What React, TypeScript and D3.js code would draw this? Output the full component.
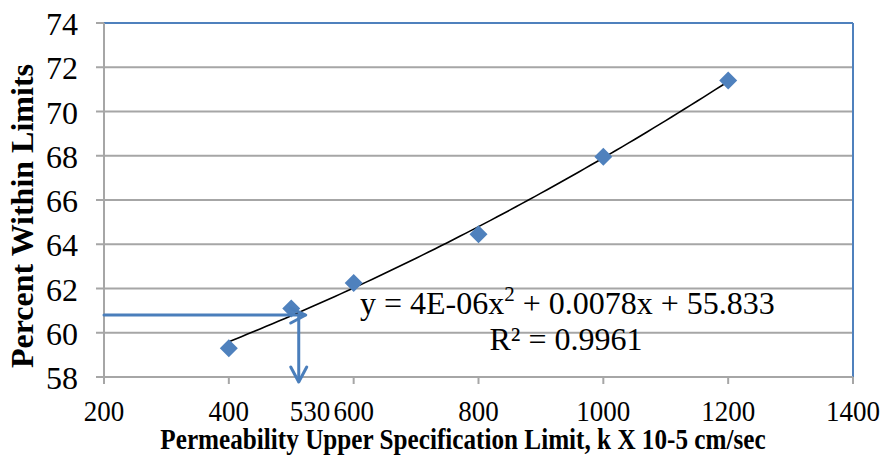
import React from "react";
import * as d3 from "d3";

const xValues = [400, 500, 600, 800, 1000, 1200];
const yValues = [59.3, 61.1, 62.25, 64.45, 67.95, 71.4];
const xTicks = [200, 400, 600, 800, 1000, 1200, 1400];
const yTicks = [58, 60, 62, 64, 66, 68, 70, 72, 74];
const markX = 512;
const markY = 60.8;
const markLabel = 530;
const equationText = "y = 4E-06x";
const equationRest = " + 0.0078x + 55.833";
const r2Text = "R² = 0.9961";

function polyFit(xs: number[], ys: number[]) {
  const n = xs.length;
  const s = [0, 0, 0, 0, 0];
  const t = [0, 0, 0];
  for (let i = 0; i < n; i++) {
    for (let k = 0; k < 5; k++) s[k] += Math.pow(xs[i], k);
    for (let k = 0; k < 3; k++) t[k] += ys[i] * Math.pow(xs[i], k);
  }
  const A = [
    [s[0], s[1], s[2], t[0]],
    [s[1], s[2], s[3], t[1]],
    [s[2], s[3], s[4], t[2]],
  ];
  for (let i = 0; i < 3; i++) {
    for (let j = i + 1; j < 3; j++) {
      const f = A[j][i] / A[i][i];
      for (let k = i; k < 4; k++) A[j][k] -= f * A[i][k];
    }
  }
  const c = [0, 0, 0];
  for (let i = 2; i >= 0; i--) {
    let v = A[i][3];
    for (let k = i + 1; k < 3; k++) v -= A[i][k] * c[k];
    c[i] = v / A[i][i];
  }
  return (x: number) => c[0] + c[1] * x + c[2] * x * x;
}

export default function App() {
  const W = 886, H = 460;
  const left = 104, right = 853, top = 23, bottom = 377;
  const x = d3.scaleLinear().domain([200, 1400]).range([left, right]);
  const y = d3.scaleLinear().domain([58, 74]).range([bottom, top]);
  const f = polyFit(xValues, yValues);
  const fitPts = d3.range(400, 1201, 10).map((v) => [x(v), y(f(v))] as [number, number]);
  const line = d3.line()(fitPts) || "";
  const blue = "#4a7ebb";
  const grid = "#a6a6a6";
  const serif = "Liberation Serif, DejaVu Serif, serif";
  const ax = x(markX), ay = y(markY);
  const d = 9;
  const tickSX = 0.9;
  return (
    <svg width={W} height={H} style={{ position: "absolute", left: 0, top: 0, background: "#fff" }}>
      <rect x={0} y={0} width={W} height={H} fill="#fff" />
      {yTicks.map((t) => (
        <g key={"y" + t}>
          <line x1={left - 8} x2={right} y1={y(t)} y2={y(t)} stroke={grid} strokeWidth={2} />
          <text x={78} y={y(t) + 12} textAnchor="end" fontFamily={serif} fontSize={32}>{t}</text>
        </g>
      ))}
      <line x1={right} x2={right} y1={top} y2={bottom} stroke="#4f81bd" strokeWidth={2} />
      <line x1={left} x2={right} y1={top} y2={top} stroke="#4f81bd" strokeWidth={2} />
      <line x1={left} x2={left} y1={top} y2={bottom + 7} stroke={grid} strokeWidth={2} />
      <line x1={left} x2={right} y1={bottom} y2={bottom} stroke={grid} strokeWidth={2} />
      {xTicks.map((t) => (
        <g key={"x" + t}>
          <line x1={x(t)} x2={x(t)} y1={bottom} y2={bottom + 7} stroke={grid} strokeWidth={2} />
          <text transform={`translate(${x(t)},421) scale(${tickSX},1)`} textAnchor="middle" fontFamily={serif} fontSize={30}>{t}</text>
        </g>
      ))}
      <text transform={`translate(${x(markLabel)},421) scale(${tickSX},1)`} textAnchor="middle" fontFamily={serif} fontSize={30}>{markLabel}</text>
      <path d={line} fill="none" stroke="#000" strokeWidth={1.6} />
      {xValues.map((v, i) => {
        const cx = x(v), cy = y(yValues[i]);
        return (
          <path key={i} d={`M${cx},${cy - d}L${cx + d},${cy}L${cx},${cy + d}L${cx - d},${cy}Z`} fill="#4f81bd" />
        );
      })}
      <g stroke={blue} strokeWidth={3} fill="none" strokeLinecap="round" strokeLinejoin="round">
        <line x1={left} x2={ax + 6} y1={ay} y2={ay} />
        <polyline points={`${ax - 8},${ay - 7} ${ax + 7},${ay} ${ax - 8},${ay + 8}`} />
        <line x1={ax} x2={ax} y1={ay} y2={bottom + 4} />
        <polyline points={`${ax - 8},${bottom - 10} ${ax},${bottom + 5} ${ax + 8},${bottom - 10}`} />
      </g>
      <text x={360} y={314} fontFamily={serif} fontSize={32}>
        {equationText}
        <tspan dy={-13} fontSize={21}>2</tspan>
        <tspan dy={13}>{equationRest}</tspan>
      </text>
      <text x={566} y={350} textAnchor="middle" fontFamily={serif} fontSize={32}>{r2Text}</text>
      <text transform="translate(463,449) scale(0.84,1)" textAnchor="middle" fontFamily={serif} fontSize={30} fontWeight="bold">
        Permeability Upper Specification Limit, k X 10-5 cm/sec
      </text>
      <text transform={`translate(33,216) rotate(-90)`} textAnchor="middle" fontFamily={serif} fontSize={32} fontWeight="bold">
        Percent Within Limits
      </text>
    </svg>
  );
}
